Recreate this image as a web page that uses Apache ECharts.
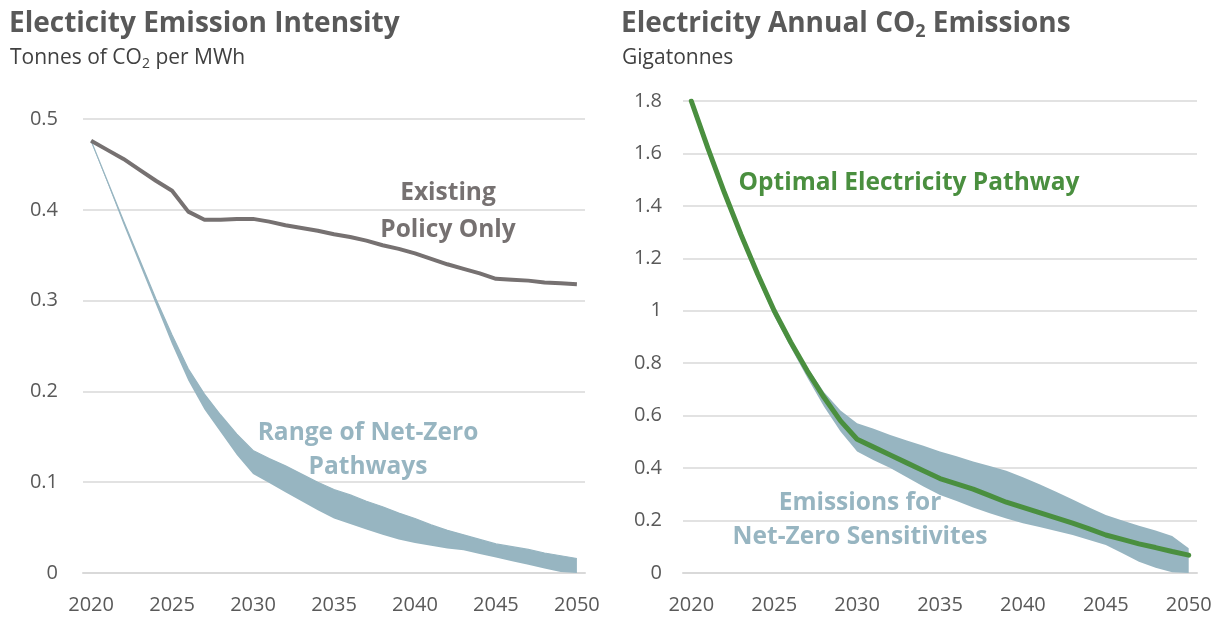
<!DOCTYPE html>
<html>
<head>
<meta charset="utf-8">
<script src="https://cdn.jsdelivr.net/npm/echarts@6/dist/echarts.min.js"></script>
<style>
  html, body { margin: 0; padding: 0; background: #ffffff; }
  #chart { width: 1217px; height: 617px; }
</style>
</head>
<body>
<div id="chart"></div>
<script>
// Years on both horizontal axes
const years = [];
for (let y = 2020; y <= 2050; y++) years.push(String(y));

// Left panel: emission intensity, tonnes CO2 per MWh
const existingPolicy = [0.476, 0.466, 0.456, 0.444, 0.432, 0.421, 0.398, 0.389, 0.389, 0.390,
  0.390, 0.387, 0.383, 0.380, 0.377, 0.373, 0.370, 0.366, 0.361, 0.357,
  0.352, 0.346, 0.340, 0.335, 0.330, 0.324, 0.323, 0.322, 0.320, 0.319, 0.318];
const netZeroLow = [0.475, 0.430, 0.384, 0.340, 0.296, 0.252, 0.212, 0.180, 0.155, 0.130,
  0.109, 0.099, 0.089, 0.079, 0.069, 0.060, 0.054, 0.048, 0.042, 0.037,
  0.033, 0.030, 0.027, 0.025, 0.021, 0.017, 0.013, 0.009, 0.005, 0.001, 0.000];
const netZeroHigh = [0.476, 0.432, 0.388, 0.345, 0.302, 0.262, 0.225, 0.197, 0.174, 0.153,
  0.135, 0.126, 0.118, 0.109, 0.100, 0.092, 0.086, 0.079, 0.073, 0.066,
  0.060, 0.053, 0.047, 0.042, 0.037, 0.032, 0.029, 0.026, 0.022, 0.019, 0.016];
const leftTicks = [0, 0.1, 0.2, 0.3, 0.4, 0.5];

// Right panel: annual emissions, gigatonnes
const optimalPathway = [1.80, 1.62, 1.45, 1.29, 1.14, 1.00, 0.88, 0.77, 0.67, 0.58,
  0.51, 0.48, 0.45, 0.42, 0.39, 0.36, 0.34, 0.32, 0.295, 0.27,
  0.25, 0.23, 0.21, 0.19, 0.168, 0.145, 0.128, 0.111, 0.097, 0.082, 0.068];
const sensitivityLow = [1.80, 1.61, 1.44, 1.28, 1.12, 0.98, 0.86, 0.745, 0.635, 0.54,
  0.463, 0.43, 0.40, 0.365, 0.33, 0.297, 0.275, 0.25, 0.228, 0.208,
  0.19, 0.175, 0.16, 0.145, 0.126, 0.107, 0.075, 0.043, 0.02, 0.003, 0.0];
const sensitivityHigh = [1.80, 1.63, 1.46, 1.30, 1.15, 1.01, 0.89, 0.785, 0.69, 0.62,
  0.571, 0.55, 0.526, 0.505, 0.485, 0.463, 0.445, 0.425, 0.408, 0.39,
  0.365, 0.338, 0.31, 0.28, 0.25, 0.221, 0.20, 0.18, 0.162, 0.141, 0.094];
const rightTicks = [0, 0.2, 0.4, 0.6, 0.8, 1, 1.2, 1.4, 1.6, 1.8];

const FONT = '"Open Sans", Lato, sans-serif';
const GRID_COLOR = '#d9d9d9';
const LABEL_COLOR = '#595959';
const TITLE_COLOR = '#595959';
const SUB_COLOR = '#404040';
const BAND_COLOR = '#97b5c1';
const GREEN = '#4a8f3f';
const GREY_LINE = '#767171';

const bandWidth = (lo, hi) => hi.map((v, i) => +(v - lo[i]).toFixed(4));

function xAxisFor(gridIndex) {
  return {
    type: 'category', gridIndex, data: years, boundaryGap: true,
    axisLine: { lineStyle: { color: GRID_COLOR, width: 2 } },
    axisTick: { interval: 0, length: 7, lineStyle: { color: GRID_COLOR, width: 1.5 } },
    axisLabel: { interval: 4, color: LABEL_COLOR, fontSize: 20, fontFamily: FONT, margin: 22 }
  };
}
function yAxisFor(gridIndex, ticks, margin) {
  return {
    type: 'value', gridIndex, min: ticks[0], max: ticks[ticks.length - 1],
    interval: ticks[1] - ticks[0],
    axisLine: { show: false }, axisTick: { show: false },
    splitLine: { lineStyle: { color: GRID_COLOR, width: 1.5 } },
    axisLabel: { color: LABEL_COLOR, fontSize: 20, fontFamily: FONT, margin,
      formatter: v => String(+v.toFixed(2)) }
  };
}

const rich = {
  t: { fontSize: 28, fontWeight: 'bold', fill: TITLE_COLOR, color: TITLE_COLOR, fontFamily: FONT },
  ts: { fontSize: 18, fontWeight: 'bold', fill: TITLE_COLOR, color: TITLE_COLOR, fontFamily: FONT, padding: [16, 0, 0, 0] },
  s: { fontSize: 21, fill: SUB_COLOR, color: SUB_COLOR, fontFamily: FONT },
  ss: { fontSize: 14, fill: SUB_COLOR, color: SUB_COLOR, fontFamily: FONT, padding: [12, 0, 0, 0] }
};

function annotation(x, y, text, color, lineHeight) {
  return { type: 'text', x, y, style: { text, align: 'center', verticalAlign: 'middle',
    fill: color, font: 'bold 24.5px ' + FONT, lineHeight: lineHeight || 36 } };
}

const chart = echarts.init(document.getElementById('chart'), null, { renderer: 'canvas' });
chart.setOption({
  animation: false,
  backgroundColor: '#ffffff',
  grid: [
    { left: 83, top: 119, width: 502, height: 454 },
    { left: 683, top: 101, width: 514, height: 472 }
  ],
  xAxis: [xAxisFor(0), xAxisFor(1)],
  yAxis: [yAxisFor(0, leftTicks, 25), yAxisFor(1, rightTicks, 21)],
  graphic: [
    { type: 'text', x: 9, y: 24, style: { text: '{t|Electicity Emission Intensity}', verticalAlign: 'middle', rich } },
    { type: 'text', x: 10, y: 58, style: { text: '{s|Tonnes of CO}{ss|2}{s| per MWh}', verticalAlign: 'middle', rich } },
    { type: 'text', x: 621, y: 24, style: { text: '{t|Electricity Annual CO}{ts|2}{t| Emissions}', verticalAlign: 'middle', rich } },
    { type: 'text', x: 622, y: 58, style: { text: '{s|Gigatonnes}', verticalAlign: 'middle', rich } },
    annotation(448, 212, 'Existing\nPolicy Only', GREY_LINE, 37),
    annotation(368, 450, 'Range of Net-Zero\nPathways', BAND_COLOR, 34),
    annotation(909, 183, 'Optimal Electricity Pathway', GREEN),
    annotation(860, 520, 'Emissions for\nNet-Zero Sensitivites', BAND_COLOR, 34)
  ],
  series: [
    // left: net-zero range band (transparent base + filled width)
    { type: 'line', xAxisIndex: 0, yAxisIndex: 0, stack: 'nz', data: netZeroLow, symbol: 'none',
      lineStyle: { width: 0 }, areaStyle: { opacity: 0 }, z: 1 },
    { type: 'line', xAxisIndex: 0, yAxisIndex: 0, stack: 'nz', data: bandWidth(netZeroLow, netZeroHigh), symbol: 'none',
      lineStyle: { width: 1.2, color: BAND_COLOR }, areaStyle: { color: BAND_COLOR, opacity: 1 }, z: 2 },
    { type: 'line', xAxisIndex: 0, yAxisIndex: 0, data: existingPolicy, symbol: 'none',
      lineStyle: { width: 4, color: GREY_LINE }, z: 3 },
    // right: sensitivity band and optimal pathway
    { type: 'line', xAxisIndex: 1, yAxisIndex: 1, stack: 'sens', data: sensitivityLow, symbol: 'none',
      lineStyle: { width: 0 }, areaStyle: { opacity: 0 }, z: 1 },
    { type: 'line', xAxisIndex: 1, yAxisIndex: 1, stack: 'sens', data: bandWidth(sensitivityLow, sensitivityHigh), symbol: 'none',
      lineStyle: { width: 0 }, areaStyle: { color: BAND_COLOR, opacity: 1 }, z: 2 },
    { type: 'line', xAxisIndex: 1, yAxisIndex: 1, data: optimalPathway, symbol: 'none',
      lineStyle: { width: 5, color: GREEN, cap: 'round' }, z: 3 }
  ]
});
</script>
</body>
</html>
